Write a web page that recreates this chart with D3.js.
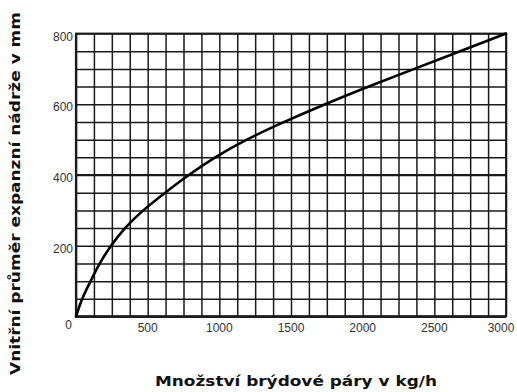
<!DOCTYPE html>
<html>
<head>
<meta charset="utf-8">
<script src="https://cdn.jsdelivr.net/npm/d3@7"></script>
<style>
  html, body { margin: 0; padding: 0; background: #fff; }
  svg { display: block; }
</style>
</head>
<body>
<svg id="chart" width="517" height="392"></svg>
<script>
// Vapour flow (kg/h) and the matching inner tank diameter (mm)
const flowKgH = [0, 40, 102, 163, 242, 337, 465, 621, 784, 965, 1185, 1450, 1735, 2040, 2360, 2680, 3000];
const diameterMm = [0, 50, 100, 150, 200, 250, 300, 350, 400, 450, 500, 550, 600, 650, 700, 750, 800];

const xTickLabels = [500, 1000, 1500, 2000, 2500, 3000];
const yTickLabels = [200, 400, 600, 800];
const referenceDiameter = 400;

const xTitle = "Množství brýdové páry v kg/h";
const yTitle = "Vnitřní průměr expanzní nádrže v mm";

const svg = d3.select("#chart");
const plotLeft = 76, plotRight = 506, plotTop = 33.5, plotBottom = 316.5;

const x = d3.scaleLinear().domain([0, 3000]).range([plotLeft, plotRight]);
const y = d3.scaleLinear().domain([0, 800]).range([plotBottom, plotTop]);

const ink = "#1a1a1a";
const labelFont = "'Liberation Sans Narrow', 'Arial Narrow', 'Liberation Sans', sans-serif";
const titleFont = "'DejaVu Sans', Verdana, sans-serif";

// Grid: verticals every 125 kg/h, horizontals every 50 mm
const grid = svg.append("g");
grid.append("g")
  .attr("transform", `translate(0,${plotBottom})`)
  .call(d3.axisBottom(x).tickValues(d3.range(0, 3001, 125)).tickSize(-(plotBottom - plotTop)).tickFormat(""))
  .call(g => g.select(".domain").remove())
  .call(g => g.selectAll("line").attr("stroke", ink).attr("stroke-width", 1.5));
grid.append("g")
  .attr("transform", `translate(${plotLeft},0)`)
  .call(d3.axisLeft(y).tickValues(d3.range(0, 801, 50)).tickSize(-(plotRight - plotLeft)).tickFormat(""))
  .call(g => g.select(".domain").remove())
  .call(g => g.selectAll("line").attr("stroke", ink).attr("stroke-width", 1.5));

// Frame with heavier axis lines
svg.append("rect")
  .attr("x", x(0)).attr("y", y(800))
  .attr("width", x(3000) - x(0)).attr("height", y(0) - y(800))
  .attr("fill", "none").attr("stroke", ink).attr("stroke-width", 1.8);
svg.append("line")
  .attr("x1", x(0)).attr("x2", x(3000)).attr("y1", y(0)).attr("y2", y(0))
  .attr("stroke", ink).attr("stroke-width", 2.6);
svg.append("line")
  .attr("x1", x(0)).attr("x2", x(0)).attr("y1", y(0)).attr("y2", y(800))
  .attr("stroke", ink).attr("stroke-width", 2.2);

// Emphasised 400 mm line
svg.append("line")
  .attr("x1", x(0)).attr("x2", x(3000))
  .attr("y1", y(referenceDiameter)).attr("y2", y(referenceDiameter))
  .attr("stroke", ink).attr("stroke-width", 2.2);

// Curve
const pts = flowKgH.map((q, i) => [q, diameterMm[i]]);
svg.append("path")
  .datum(pts)
  .attr("fill", "none")
  .attr("stroke", "#000")
  .attr("stroke-width", 2.6)
  .attr("stroke-linejoin", "round")
  .attr("stroke-linecap", "round")
  .attr("d", d3.line().x(d => x(d[0])).y(d => y(d[1])).curve(d3.curveBasis));

// Tick labels
svg.append("g")
  .selectAll("text")
  .data(xTickLabels)
  .join("text")
  .attr("x", d => x(d) - (d === 3000 ? 5 : 0))
  .attr("y", plotBottom + 15)
  .attr("text-anchor", "middle")
  .attr("font-family", labelFont)
  .attr("font-size", 12)
  .attr("fill", "#333")
  .text(d => d);

svg.append("g")
  .selectAll("text")
  .data(yTickLabels)
  .join("text")
  .attr("x", plotLeft - 3)
  .attr("y", d => y(d) + 7)
  .attr("text-anchor", "end")
  .attr("font-family", labelFont)
  .attr("font-size", 12)
  .attr("fill", "#333")
  .text(d => d);

svg.append("text")
  .attr("x", plotLeft - 4).attr("y", plotBottom + 12)
  .attr("text-anchor", "end")
  .attr("font-family", labelFont)
  .attr("font-size", 12)
  .attr("fill", "#333")
  .text("0");

// Axis titles
svg.append("text")
  .attr("x", 155)
  .attr("y", 386)
  .attr("font-family", titleFont)
  .attr("font-weight", 700)
  .attr("font-size", 14.5)
  .attr("fill", "#111")
  .attr("textLength", 282)
  .attr("lengthAdjust", "spacingAndGlyphs")
  .text(xTitle);

svg.append("text")
  .attr("transform", "translate(20,375) rotate(-90)")
  .attr("font-family", titleFont)
  .attr("font-weight", 700)
  .attr("font-size", 14.5)
  .attr("fill", "#111")
  .attr("textLength", 363)
  .attr("lengthAdjust", "spacingAndGlyphs")
  .text(yTitle);
</script>
</body>
</html>
